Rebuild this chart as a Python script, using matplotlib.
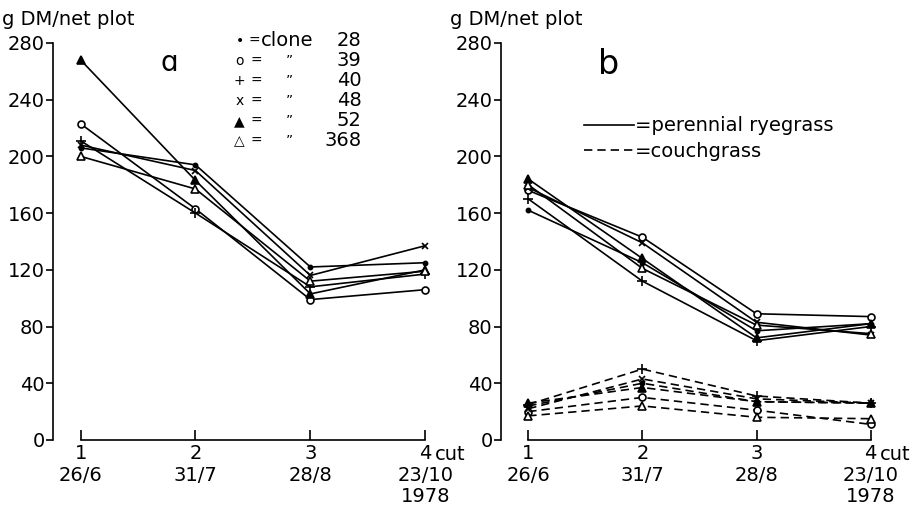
import matplotlib.pyplot as plt
from matplotlib.lines import Line2D

plt.rcParams['font.family'] = ['DejaVu Sans']

# cut number and date
cuts = [1, 2, 3, 4]
cut_dates = ['26/6', '31/7', '28/8', '23/10\n1978']

clones = ['28', '39', '40', '48', '52', '368']

# panel a: clone yields (g DM / net plot)
a_28 = [206, 194, 122, 125]
a_39 = [223, 163, 99, 106]
a_40 = [211, 160, 108, 117]
a_48 = [208, 190, 116, 137]
a_52 = [268, 183, 103, 120]
a_368 = [200, 177, 112, 119]

# panel b: perennial ryegrass in mixture
rye_28 = [162, 125, 77, 82]
rye_39 = [176, 143, 89, 87]
rye_40 = [170, 112, 70, 80]
rye_48 = [178, 139, 83, 74]
rye_52 = [184, 128, 72, 82]
rye_368 = [180, 121, 81, 75]

# panel b: couchgrass in mixture
couch_28 = [24, 40, 27, 26]
couch_39 = [20, 30, 21, 11]
couch_40 = [25, 50, 31, 26]
couch_48 = [22, 43, 29, 26]
couch_52 = [26, 37, 27, 26]
couch_368 = [17, 24, 16, 15]

# marker style per clone: (marker, size, face)
styles = [('.', 6, 'k'), ('o', 5, 'white'), ('+', 7, 'k'),
          ('x', 5, 'k'), ('^', 6, 'k'), ('^', 6, 'white')]

fig = plt.figure(figsize=(9.14, 5.11), dpi=100)
ax_a = fig.add_axes([0.058, 0.139, 0.445, 0.777])
ax_b = fig.add_axes([0.548, 0.139, 0.442, 0.777])


def draw(ax, series, ls):
    for vals, (m, ms, fc) in zip(series, styles):
        ax.plot(cuts, vals, color='k', lw=1.2, ls=ls, marker=m, ms=ms,
                mfc=fc, mec='k', mew=1.2, clip_on=False,
                dashes=(5, 3) if ls == '--' else (None, None))


draw(ax_a, [a_28, a_39, a_40, a_48, a_52, a_368], '-')
draw(ax_b, [rye_28, rye_39, rye_40, rye_48, rye_52, rye_368], '-')
draw(ax_b, [couch_28, couch_39, couch_40, couch_48, couch_52, couch_368], '--')

for ax in (ax_a, ax_b):
    ax.set_xlim(0.76, 4.3)
    ax.set_ylim(0, 280)
    ax.spines['top'].set_visible(False)
    ax.spines['right'].set_visible(False)
    ax.spines['left'].set_bounds(0, 280)
    ax.spines['bottom'].set_bounds(1, 4)
    ax.spines['left'].set_linewidth(1.2)
    ax.spines['bottom'].set_linewidth(1.2)
    ax.set_yticks(range(0, 281, 40))
    ax.set_xticks(cuts)
    ax.set_xticklabels([str(c) for c in cuts], fontsize=14)
    ax.tick_params(axis='y', direction='out', length=5, width=1.2,
                   labelsize=14, pad=1)
    ax.tick_params(axis='x', direction='in', length=7, width=1.2, pad=3)
    for c, d in zip(cuts, cut_dates):
        ax.annotate(d, xy=(c, 0), xycoords='data', xytext=(0, -19),
                    textcoords='offset points', ha='center', va='top',
                    fontsize=14, linespacing=1.1)
    ax.annotate('cut', xy=(cuts[-1], 0), xycoords='data', xytext=(7, -3.5),
                textcoords='offset points', ha='left', va='top', fontsize=14)
    ax.text(-0.125, 1.035, 'g DM/net plot', transform=ax.transAxes,
            fontsize=14, ha='left', va='bottom')

ax_a.text(1.77, 256, 'ɑ', fontsize=20, ha='center', va='bottom')
ax_b.text(1.7, 253, 'b', fontsize=24, ha='center', va='bottom')

# panel a legend as text rows
symbols = ['•', 'o', '+', 'x', '▲', '△']
for i, (sym, c) in enumerate(zip(symbols, clones)):
    y = 1.005 - i * 0.0504
    ax_a.text(0.459, y, sym, transform=ax_a.transAxes, fontsize=10,
              ha='center', va='center')
    ax_a.text(0.495 if i == 0 else 0.501, y, '=', transform=ax_a.transAxes,
              fontsize=10, ha='center', va='center')
    ax_a.text(0.759, y, c, transform=ax_a.transAxes, fontsize=14,
              ha='right', va='center')
    if i == 0:
        ax_a.text(0.512, y, 'clone', transform=ax_a.transAxes, fontsize=14,
                  ha='left', va='center')
    else:
        ax_a.text(0.582, y, '\u201d', transform=ax_a.transAxes, fontsize=10,
                  ha='center', va='center')

handles = [Line2D([], [], color='k', lw=1.2, ls='-'),
           Line2D([], [], color='k', lw=1.2, ls='--', dashes=(5, 3))]
ax_b.legend(handles, ['=perennial ryegrass', '=couchgrass'], frameon=False,
            loc='upper left', bbox_to_anchor=(0.205, 0.815), fontsize=14,
            handlelength=2.6, handletextpad=0.05, labelspacing=0.35,
            borderaxespad=0, borderpad=0)

fig.savefig('out.png', dpi=100)
